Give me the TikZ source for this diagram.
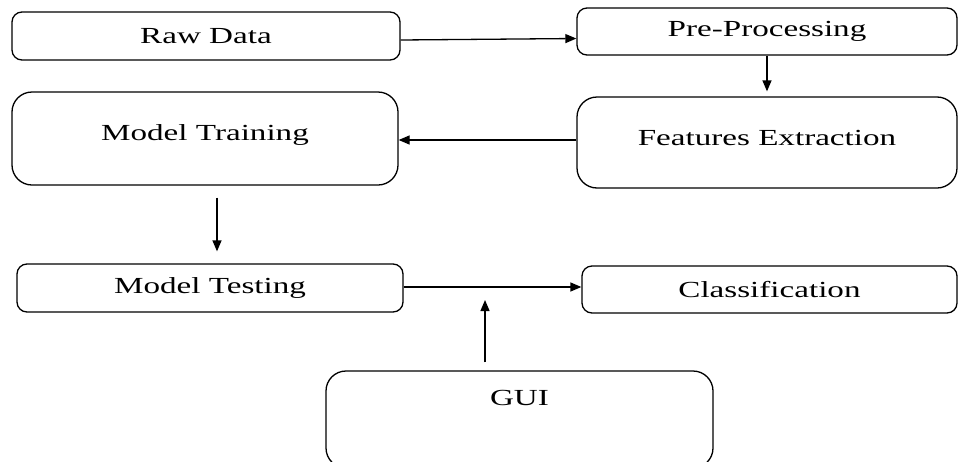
\documentclass[tikz,border=0pt]{standalone}
\usepackage{fontspec}
\setmainfont{Liberation Serif}[FakeStretch=1.44]
\usetikzlibrary{arrows.meta}
\begin{document}
\begin{tikzpicture}[x=1pt,y=-1pt,
  box/.style={draw, line width=1.3pt, rounded corners=10pt, inner sep=0pt,
    font=\fontsize{23}{26}\selectfont},
  bigbox/.style={box, rounded corners=20pt},
  arr/.style={draw, line width=1.3pt, -{Triangle[length=11pt,width=9pt]}}]
\useasboundingbox (0,0) rectangle (958,461);
\clip (0,0) rectangle (958,461);
\node[box, minimum width=388pt, minimum height=48pt] (rd) at (206,36) {Raw Data};
\node[box, minimum width=380pt, minimum height=47pt] (pp) at (767,31.5) {Pre-Processing};
\node[bigbox, minimum width=386pt, minimum height=93pt] (mt) at (205,138.5) {\raisebox{11pt}{Model Training}};
\node[bigbox, minimum width=380pt, minimum height=91pt] (fe) at (767,142.5) {\raisebox{9pt}{Features Extraction}};
\node[box, minimum width=386pt, minimum height=48pt] (mtest) at (210,288) {Model Testing};
\node[box, minimum width=375pt, minimum height=47pt] (cls) at (769.5,289.5) {Classification};
\node[bigbox, minimum width=387pt, minimum height=97pt] (gui) at (519.5,419.5) {\raisebox{44pt}{GUI}};
\coordinate (guiend) at (485,300);
\draw[arr] ([yshift=-4pt]rd.east) -- ([yshift=-7pt]pp.west);
\draw[arr, shorten >=5pt] (pp.south) -- (pp.south |- fe.north);
\draw[arr] ([yshift=2.5pt]fe.west) -- ([yshift=2.5pt]fe.west -| mt.east);
\draw[arr, shorten <=12pt, shorten >=12pt] ([xshift=12pt]mt.south) -- ([xshift=12pt]mt.south |- mtest.north);
\draw[arr] ([yshift=1pt]mtest.east) -- ([yshift=1pt]mtest.east -| cls.west);
\draw[arr, shorten <=8pt] (gui.north -| guiend) -- (guiend);
\end{tikzpicture}
\end{document}
